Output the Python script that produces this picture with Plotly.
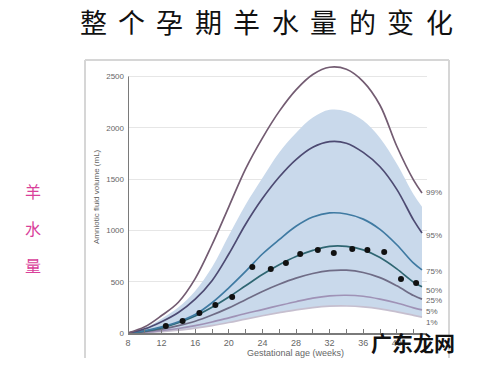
import plotly.graph_objects as go

TITLE = "整个孕期羊水量的变化"
SIDE_LABEL = "羊水量"
X_TITLE = "Gestational age (weeks)"
Y_TITLE = "Amniotic fluid volume (mL)"
WATERMARK = "广东龙网"

weeks = [8, 10, 12, 14, 16, 18, 20, 22, 24, 26, 28, 30, 32, 34, 36, 38, 40, 42, 43]

p99 = [0, 60, 170, 300, 530, 860, 1230, 1600, 1900, 2160, 2370, 2520, 2590, 2570, 2450, 2220, 1820, 1490, 1365]
band_upper = [0, 50, 140, 250, 410, 640, 950, 1250, 1510, 1760, 1950, 2100, 2175, 2160, 2070, 1900, 1650, 1350, 1230]
p95 = [0, 40, 110, 200, 330, 510, 770, 1060, 1310, 1520, 1690, 1810, 1865, 1850, 1760, 1620, 1400, 1100, 975]
p75 = [0, 22, 60, 110, 180, 295, 440, 600, 770, 910, 1040, 1130, 1170, 1160, 1110, 1010, 860, 680, 615]
p50 = [0, 18, 50, 100, 165, 250, 350, 460, 570, 665, 745, 805, 845, 845, 810, 735, 625, 495, 450]
p25 = [0, 14, 38, 72, 115, 175, 245, 325, 405, 475, 535, 580, 608, 612, 590, 540, 460, 365, 330]
p5 = [0, 9, 24, 44, 72, 107, 148, 190, 228, 268, 305, 340, 362, 368, 358, 330, 292, 245, 225]
p1 = [0, 5, 14, 28, 48, 72, 102, 136, 168, 198, 226, 248, 261, 263, 255, 236, 206, 172, 155]

dot_weeks = [12.5, 14.5, 16.5, 18.4, 20.4, 22.8, 25.0, 26.8, 28.5, 30.6, 32.5, 34.7, 36.5, 38.5, 40.5, 42.3]
dot_values = [68, 117, 195, 273, 351, 643, 624, 682, 770, 809, 780, 819, 809, 789, 526, 487]

pct_labels = ["99%", "95%", "75%", "50%", "25%", "5%", "1%"]
pct_label_y = [1365, 955, 604, 419, 312, 205, 107]

x_ticks = [8, 12, 16, 20, 24, 28, 32, 36, 40]
y_ticks = [0, 500, 1000, 1500, 2000, 2500]

# pixel layout helpers
L, R, T, B = 128, 427, 64, 333
W, H = 500, 368
def px(x):
    return (x - L) / (R - L)
def py(y):
    return (B - y) / (B - T)

fig = go.Figure()

fig.add_trace(go.Scatter(x=weeks, y=p1, mode="lines", line=dict(width=0, shape="spline"),
                         hoverinfo="skip", showlegend=False))
fig.add_trace(go.Scatter(x=weeks, y=band_upper, mode="lines", line=dict(width=0, shape="spline"),
                         fill="tonexty", fillcolor="#c9d9eb", hoverinfo="skip", showlegend=False))

series = [
    (p1, "#c6bfcf"),
    (p5, "#9f92b6"),
    (p25, "#6f6c86"),
    (p50, "#2f6672"),
    (p75, "#3f7aa2"),
    (p95, "#4d4a72"),
    (p99, "#735c72"),
]
for vals, col in series:
    fig.add_trace(go.Scatter(x=weeks, y=vals, mode="lines",
                             line=dict(color=col, width=1.7, shape="spline", smoothing=1.0),
                             showlegend=False))

fig.add_trace(go.Scatter(x=dot_weeks, y=dot_values, mode="markers",
                         marker=dict(color="#111111", size=6), showlegend=False))

xmax = 8 + (R - L) / 8.4
ymax = (B - T) / 0.1026

fig.update_layout(
    width=W, height=H,
    margin=dict(l=L, r=W - R, t=T, b=H - B),
    paper_bgcolor="white", plot_bgcolor="white",
    font=dict(family="Liberation Sans, Arial, sans-serif", color="#666"),
    xaxis=dict(range=[8, xmax], tickvals=x_ticks, ticktext=[str(v) for v in x_ticks],
               showgrid=False, zeroline=False, showline=True, linecolor="#7a7a7a", linewidth=2,
               ticks="inside", tickcolor="#7a7a7a", ticklen=4,
               minor=dict(dtick=2, ticks="inside", ticklen=4, tickcolor="#7a7a7a"),
               tickfont=dict(size=9, color="#666"), fixedrange=True),
    yaxis=dict(range=[0, ymax], tickvals=y_ticks, ticktext=[str(v) for v in y_ticks],
               showgrid=True, gridcolor="#e6e6e6", gridwidth=1, zeroline=False, showline=False,
               ticks="", tickfont=dict(size=8, color="#666"), ticklabelstandoff=3, fixedrange=True),
)

# y axis line (stops at 2500)
fig.add_shape(type="line", xref="x", yref="y", x0=8, x1=8, y0=0, y1=2500,
              line=dict(color="#7a7a7a", width=2))

# frame around the chart image
for (x0, y0, x1, y1) in [(85, 60, 449, 60), (85, 60, 85, 358), (449, 60, 449, 358)]:
    fig.add_shape(type="line", xref="paper", yref="paper",
                  x0=px(x0), y0=py(y0), x1=px(x1), y1=py(y1),
                  line=dict(color="#d6d6d6", width=2))

def ann(x, y, text, size, color, family=None, **kw):
    f = dict(size=size, color=color)
    if family:
        f["family"] = family
    d = dict(x=x, y=y, text=text, showarrow=False, font=f,
             xanchor="center", yanchor="middle")
    d.update(kw)
    return d

annotations = []
for lab, yv in zip(pct_labels, pct_label_y):
    annotations.append(ann(43.2, yv, lab, 8, "#666", xref="x", yref="y", xanchor="left"))

annotations.append(ann(px(295), py(353), X_TITLE, 9, "#666", xref="paper", yref="paper"))
annotations.append(ann(px(96), py(197), Y_TITLE, 8, "#666", xref="paper", yref="paper",
                       textangle=-90))

# title, letter-spaced
n = len(TITLE)
x_start, x_end = 93, 439
for i, ch in enumerate(TITLE):
    cx = x_start + (x_end - x_start) * i / (n - 1)
    annotations.append(ann(px(cx), py(21), ch, 27, "#111", "Noto Sans CJK SC",
                           xref="paper", yref="paper"))

# pink vertical side label
for i, ch in enumerate(SIDE_LABEL):
    annotations.append(ann(px(33), py(191 + 37 * i), ch, 16, "#d9409a", "Noto Sans CJK SC",
                           xref="paper", yref="paper"))

annotations.append(ann(px(413), py(342), "<b>" + WATERMARK + "</b>", 21, "#111",
                       "Noto Sans CJK SC", xref="paper", yref="paper"))

fig.update_layout(annotations=annotations)

fig.write_html("out.html")
